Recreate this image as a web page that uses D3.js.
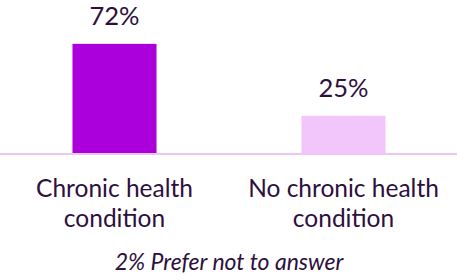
<!DOCTYPE html>
<html>
<head>
<meta charset="utf-8">
<script src="https://cdn.jsdelivr.net/npm/d3@7"></script>
<style>
  body { margin: 0; background: #fff; }
  text { font-family: Lato, "Open Sans", sans-serif; fill: #2e0f3e; }
</style>
</head>
<body>
<div class="canvas"></div>
<script>
// data
const categories = ['Chronic health condition', 'No chronic health condition'];
const labelLines = [['Chronic health', 'condition'], ['No chronic health', 'condition']];
const values = [72, 25];
const colors = ['#ab00dc', '#f2c5fb'];
const footnote = '2% Prefer not to answer';

const width = 457, height = 280;
const baseline = 154;

const svg = d3.select('.canvas')
  .append('svg')
    .attr('width', width)
    .attr('height', height);

// scales
const x = d3.scaleBand()
  .domain(categories)
  .range([0, 458])
  .paddingInner(0.633)
  .paddingOuter(0.3165);

const y = d3.scaleLinear()
  .domain([0, 100])
  .range([baseline, baseline - 153]);

// bars
svg.selectAll('rect.bar')
  .data(values)
  .enter()
  .append('rect')
    .attr('class', 'bar')
    .attr('x', (d, i) => x(categories[i]))
    .attr('y', d => y(d))
    .attr('width', x.bandwidth())
    .attr('height', d => baseline - y(d))
    .attr('fill', (d, i) => colors[i]);

// baseline axis
svg.append('line')
  .attr('x1', 0)
  .attr('x2', width)
  .attr('y1', baseline)
  .attr('y2', baseline)
  .attr('stroke', '#ecc6f4')
  .attr('stroke-width', 2);

// value labels
svg.selectAll('text.val')
  .data(values)
  .enter()
  .append('text')
    .attr('class', 'val')
    .attr('x', (d, i) => x(categories[i]) + x.bandwidth() / 2)
    .attr('y', d => y(d) - 19)
    .attr('text-anchor', 'middle')
    .style('font-size', '25.5px')
    .text(d => d + '%');

// category labels
const cat = svg.selectAll('text.cat')
  .data(categories)
  .enter()
  .append('text')
    .attr('class', 'cat')
    .attr('x', d => x(d) + x.bandwidth() / 2)
    .attr('y', 197)
    .attr('text-anchor', 'middle')
    .style('font-size', '24.5px');

cat.selectAll('tspan')
  .data((d, i) => labelLines[i])
  .enter()
  .append('tspan')
    .attr('x', function() { return d3.select(this.parentNode).attr('x'); })
    .attr('dy', (d, i) => i === 0 ? 0 : 30)
    .text(d => d);

// footnote
svg.append('text')
  .attr('x', 229)
  .attr('y', 270)
  .attr('text-anchor', 'middle')
  .style('font-size', '23px')
  .style('font-style', 'italic')
  .text(footnote);
</script>
</body>
</html>
